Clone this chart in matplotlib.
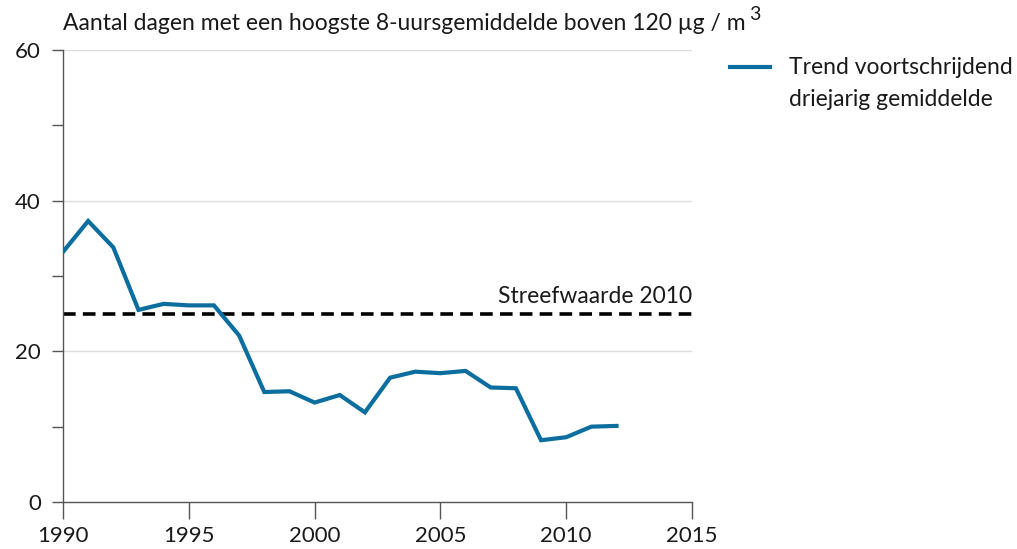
import matplotlib
matplotlib.use("Agg")
import matplotlib.pyplot as plt
from matplotlib.lines import Line2D
import numpy as np

# data
years = [1990, 1991, 1992, 1993, 1994, 1995, 1996, 1997, 1998, 1999, 2000,
         2001, 2002, 2003, 2004, 2005, 2006, 2007, 2008, 2009, 2010, 2011, 2012]
trend = [33.2, 37.3, 33.8, 25.5, 26.3, 26.1, 26.1, 22.1, 14.6, 14.7, 13.2,
         14.2, 11.9, 16.5, 17.3, 17.1, 17.4, 15.2, 15.1, 8.2, 8.6, 10.0, 10.1]
target_value = 25
target_label = "Streefwaarde 2010"
series_label = "Trend voortschrijdend\ndriejarig gemiddelde"
title = "Aantal dagen met een hoogste 8-uursgemiddelde boven 120 µg / m"

plt.rcParams['font.family'] = ['Lato', 'DejaVu Sans']
txt_col = '#1a1a1a'
line_col = '#0b6e9f'
W, H = 1017, 549

fig = plt.figure(figsize=(W/100, H/100), dpi=100)
ax = fig.add_axes([63/W, 47/H, 629/W, 452/H])

ax.plot(years, trend, color=line_col, lw=3, solid_joinstyle='miter', zorder=3)
ax.axhline(target_value, color='black', lw=2.6, dashes=(3.5, 2), zorder=2)
ax.text(2015, target_value + 0.9, target_label, ha='right', va='bottom',
        fontsize=16.5, color=txt_col)

ax.set_xlim(1990, 2015)
ax.set_ylim(0, 60)
ax.set_xticks(np.arange(1990, 2016, 5))
ax.set_yticks([0, 20, 40, 60])
ax.set_yticks([10, 30, 50], minor=True)
for y in [20, 40, 60]:
    ax.axhline(y, color='#dddddd', lw=1, zorder=0)

for s in ['top', 'right']:
    ax.spines[s].set_visible(False)
for s in ['left', 'bottom']:
    ax.spines[s].set_color('#555555')
    ax.spines[s].set_linewidth(1)

ax.tick_params(axis='y', which='both', length=8, width=1, color='#555555',
               labelsize=16, labelcolor=txt_col, pad=8)
ax.tick_params(axis='x', length=12, width=1, color='#555555',
               labelsize=16, labelcolor=txt_col, pad=5)

# title with superscript 3
t = fig.text(63/W, 1 - 23/H, title, ha='left', va='center',
             fontsize=16.5, color=txt_col)
fig.canvas.draw()
bb = t.get_window_extent()
fig.text((bb.x1 + 3)/W, 1 - 15/H, "3", ha='left', va='center',
         fontsize=14, color=txt_col)

# legend: handle aligned with first text line
fig.add_artist(Line2D([730/W, 770/W], [1 - 67/H, 1 - 67/H],
                      color=line_col, lw=3, transform=fig.transFigure))
fig.text(789/W, 1 - 57/H, series_label, ha='left', va='top',
         fontsize=16.5, color=txt_col, linespacing=1.62)

fig.savefig('out.png', dpi=100)
